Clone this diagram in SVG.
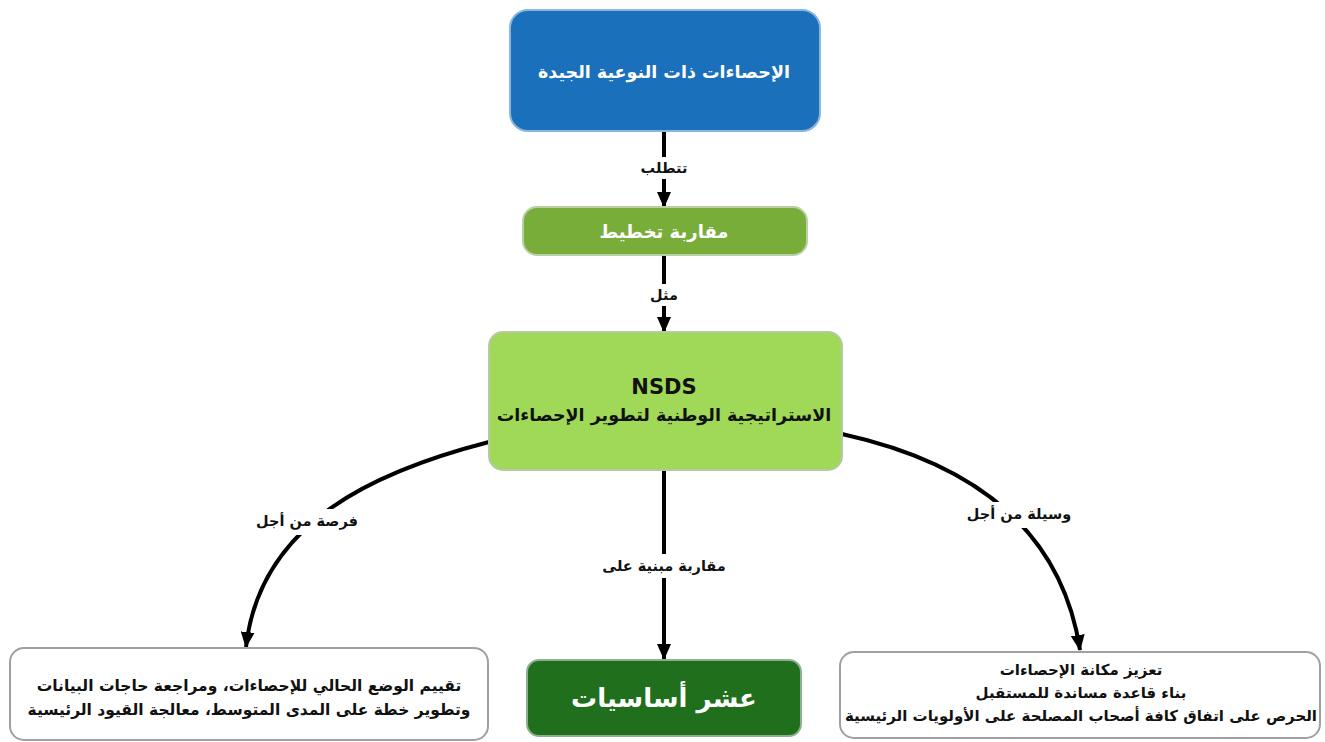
<svg xmlns="http://www.w3.org/2000/svg" width="1325" height="742" viewBox="0 0 1325 742">
<defs>
<style>
text{font-family:"DejaVu Sans","Noto Sans",sans-serif;font-weight:bold;text-anchor:middle;dominant-baseline:central}
.w{fill:#ffffff}
.k{fill:#111111}
.edge{fill:none;stroke:#000;stroke-width:4}
.lbl{font-size:14.5px;fill:#111}
.lblbg{fill:#ffffff}
</style>
<marker id="arr" viewBox="0 0 16 14" refX="15" refY="7" markerWidth="16" markerHeight="14" orient="auto" markerUnits="userSpaceOnUse">
<path d="M0,0 L16,7 L0,14 Z" fill="#000"/>
</marker>
</defs>
<rect width="1325" height="742" fill="#ffffff"/>

<g id="connectors">
<path class="edge" d="M664,131 L664,207" marker-end="url(#arr)"/>
<path class="edge" d="M664,255 L664,332" marker-end="url(#arr)"/>
<path class="edge" d="M664,470 L664,659" marker-end="url(#arr)"/>
<path class="edge" d="M489,442 C380,470 260,520 246,647" marker-end="url(#arr)"/>
<path class="edge" d="M842,434 C960,460 1060,520 1080,650" marker-end="url(#arr)"/>
<rect class="lblbg" x="640" y="157" width="48" height="22"/>
<text class="lbl" x="664" y="168">تتطلب</text>
<rect class="lblbg" x="648" y="284" width="32" height="22"/>
<text class="lbl" x="664" y="295">مثل</text>
<rect class="lblbg" x="590" y="554" width="148" height="24"/>
<text class="lbl" x="664" y="566">مقاربة مبنية على</text>
<rect class="lblbg" x="252" y="509" width="110" height="26"/>
<text class="lbl" x="307" y="521">فرصة من أجل</text>
<rect class="lblbg" x="962" y="502" width="114" height="26"/>
<text class="lbl" x="1019" y="514">وسيلة من أجل</text>
</g>

<g id="node-quality">
<rect x="510" y="10" width="310" height="121" rx="18" fill="#1a70bb" stroke="#8ab6dc" stroke-width="2"/>
<text class="w" x="664" y="72" font-size="17.5">الإحصاءات ذات النوعية الجيدة</text>
</g>

<g id="node-planning">
<rect x="523" y="207" width="284" height="48" rx="14" fill="#79ad3a" stroke="#b9cfa4" stroke-width="2"/>
<text class="w" x="664" y="231" font-size="18">مقاربة تخطيط</text>
</g>

<g id="node-nsds">
<rect x="489" y="332" width="353" height="138" rx="14" fill="#9fd957" stroke="#b5c9a2" stroke-width="2"/>
<text class="k" x="664" y="387" font-size="21">NSDS</text>
<text class="k" x="664" y="415" font-size="17.5">الاستراتيجية الوطنية لتطوير الإحصاءات</text>
</g>

<g id="node-ten">
<rect x="527" y="660" width="274" height="76" rx="12" fill="#1f6f1d" stroke="#8fb08e" stroke-width="2"/>
<text class="w" x="664" y="698" font-size="26" font-weight="normal">عشر أساسيات</text>
</g>

<g id="node-left">
<rect x="10" y="648" width="478" height="92" rx="14" fill="#ffffff" stroke="#a0a0a0" stroke-width="2"/>
<text class="k" x="249" y="686" font-size="15.5">تقييم الوضع الحالي للإحصاءات، ومراجعة حاجات البيانات</text>
<text class="k" x="249" y="710" font-size="15.5">وتطوير خطة على المدى المتوسط، معالجة القيود الرئيسية</text>
</g>

<g id="node-right">
<rect x="840" y="652" width="480" height="86" rx="14" fill="#ffffff" stroke="#a0a0a0" stroke-width="2"/>
<text class="k" x="1081" y="670" font-size="15">تعزيز مكانة الإحصاءات</text>
<text class="k" x="1081" y="693" font-size="15">بناء قاعدة مساندة للمستقبل</text>
<text class="k" x="1081" y="716" font-size="15">الحرص على اتفاق كافة أصحاب المصلحة على الأولويات الرئيسية</text>
</g>
</svg>
